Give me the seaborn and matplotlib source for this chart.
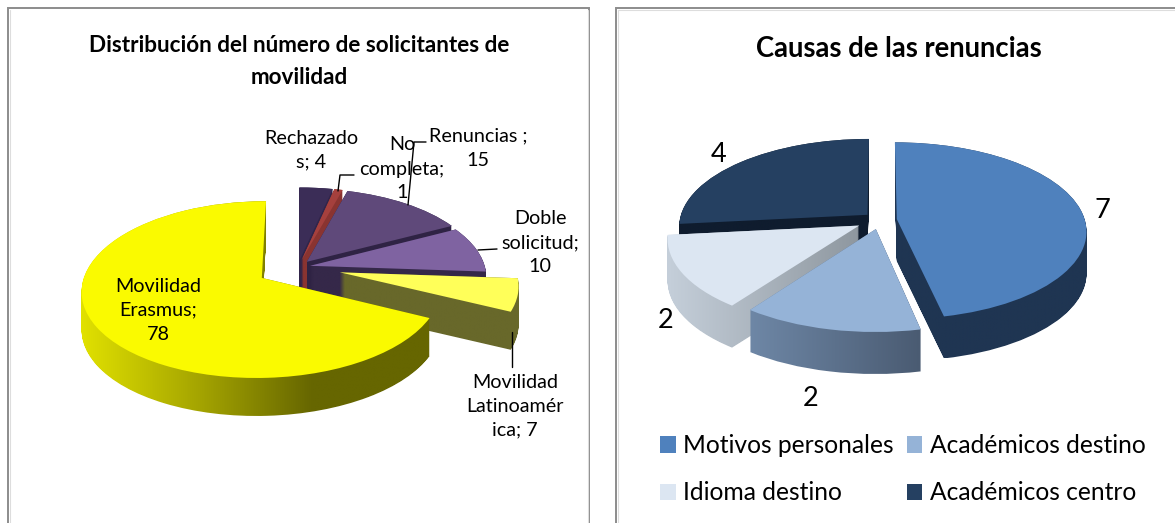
import numpy as np
import matplotlib
matplotlib.use('Agg')
import matplotlib.pyplot as plt
from matplotlib.path import Path
from matplotlib.transforms import Affine2D, Transform
import seaborn as sns

# two exploded 3D pies, the depth is just the wedges repeated downwards

# left chart
sol_names = ['Rechazados', 'No completa', 'Renuncias', 'Doble solicitud', 'Movilidad Latinoamérica', 'Movilidad Erasmus']
sol_values = [4, 1, 15, 10, 7, 78]
sol_labels = ['Rechazado\ns; 4', 'No\ncompleta;\n1', 'Renuncias ;\n15', 'Doble\nsolicitud;\n10',
              'Movilidad\nLatinoamér\nica; 7', 'Movilidad\nErasmus;\n78']
sol_explode = [0.08, 0.08, 0.08, 0.07, 0.245, 0.24]
sol_top = ['#3B2D57', '#A5403D', '#5F497A', '#7F63A1', '#FFFF59', '#FAFA00']
sol_side = [['#31254A'], ['#8A3431'], ['#2F2344'], ['#352849'], ['#68682A'],
            ['#E2E200', '#A6A600', '#666600', '#666600']]

# right chart
cau_names = ['Motivos personales', 'Académicos destino', 'Idioma destino', 'Académicos centro']
cau_values = [7, 2, 2, 4]
cau_explode = [0.09, 0.105, 0.127, 0.09]
cau_top = ['#4F81BD', '#95B3D7', '#DCE6F2', '#254061']
cau_side = [['#1F3552'], ['#6E87A6', '#4A5B72'], ['#C5CFDA', '#8E979F'], ['#0F1C2E']]


class Persp(Transform):
    input_dims = 2
    output_dims = 2
    is_affine = False

    def __init__(self, k):
        super().__init__()
        self.k = k

    def transform_non_affine(self, values):
        values = np.asarray(values, dtype=float)
        w = 1 + self.k * values[:, 1]
        return np.column_stack([values[:, 0] / w, values[:, 1] / w])

    def transform_path_non_affine(self, path):
        return Path(self.transform_non_affine(path.vertices), path.codes)


def draw_pie(ax, values, explode, top, side, order, cx, cy, rx, ry, k, depth):
    wedges, _ = ax.pie(values, explode=explode, colors=top, startangle=90, counterclock=False,
                       radius=1, wedgeprops={'linewidth': 0})
    z = 3
    for i in order:
        w = wedges[i]
        # side: gradient image clipped to the wedge swept downwards
        parts = []
        for d in range(depth + 1):
            t = Persp(k) + Affine2D().scale(rx, -ry).translate(cx, cy + d)
            parts.append(t.transform_path(w.get_path()))
        swept = Path.make_compound_path(*parts)
        x0, y0 = swept.vertices.min(axis=0)
        x1, y1 = swept.vertices.max(axis=0)
        stops = side[i] * 2 if len(side[i]) == 1 else side[i]
        cmap = sns.blend_palette(stops, as_cmap=True)
        im = ax.imshow(np.linspace(0, 1, 256)[None, :], cmap=cmap, extent=(x0, x1, y1, y0),
                       aspect='auto', interpolation='bilinear', zorder=z)
        im.set_clip_path(swept, ax.transData)
        w.set_transform(Persp(k) + Affine2D().scale(rx, -ry).translate(cx, cy) + ax.transData)
        w.set_zorder(z + 1)
        z += 2
    return wedges


sns.set_theme(style='white')
plt.rcParams['font.family'] = ['Lato', 'DejaVu Sans']

fig = plt.figure(figsize=(11.75, 5.23), dpi=100)
ax = fig.add_axes([0, 0, 1, 1])

sol_w = draw_pie(ax, sol_values, sol_explode, sol_top, sol_side, [0, 1, 2, 3, 4, 5],
                 298, 267, 175, 84, 0.13, 38)
cau_w = draw_pie(ax, cau_values, cau_explode, cau_top, cau_side, [3, 0, 2, 1],
                 880, 220, 188, 87, 0.13, 42)

ax.set_aspect('auto')
ax.set_xlim(0, 1175)
ax.set_ylim(523, 0)
ax.axis('off')

# chart frames
for xs, ys in [([8, 8, 589, 589], [523, 8, 8, 523]), ([616, 616, 1175], [523, 8, 8])]:
    ax.plot(xs, ys, color='#8C8C8C', lw=1.4, solid_joinstyle='miter', zorder=1)
ax.plot([9.5, 9.5], [523, 9.5], color='#DDDDDD', lw=0.8, zorder=1)
ax.plot([587.5, 587.5], [523, 9.5], color='#DDDDDD', lw=0.8, zorder=1)
ax.plot([617.5, 1175], [9.5, 9.5], color='#DDDDDD', lw=0.8, zorder=1)
ax.plot([617.5, 617.5], [523, 9.5], color='#DDDDDD', lw=0.8, zorder=1)

# titles
ax.text(299, 45, 'Distribución del número de solicitantes de', ha='center', va='center',
        fontsize=16.2, fontweight='bold', color='black', zorder=30)
ax.text(299, 77, 'movilidad', ha='center', va='center',
        fontsize=16.2, fontweight='bold', color='black', zorder=30)
ax.text(899, 49, 'Causas de las renuncias', ha='center', va='center',
        fontsize=19.8, fontweight='bold', color='black', zorder=30)

# left data labels
label_pos = [(311, 150), (402, 169), (478, 148), (540, 243), (515, 406), (158, 310)]
for txt, (x, y) in zip(sol_labels, label_pos):
    ax.text(x, y, txt, ha='center', va='center', fontsize=14.2, color='black',
            linespacing=1.5, zorder=30)

# leader lines
leaders = [([338, 340, 354], [191, 175, 175]), ([408, 414, 426], [205, 142, 142]),
           ([478, 497], [250, 249]), ([512, 512], [332, 367])]
for xs, ys in leaders:
    ax.plot(xs, ys, color='black', lw=1, zorder=31)

# right data labels
for v, (x, y) in zip(cau_values, [(1102, 210), (811, 398), (666, 320), (719, 155)]):
    ax.text(x, y, str(v), ha='center', va='center', fontsize=19.5, color='black', zorder=30)

# legend fills by column, the reference reads by row
leg_order = [0, 2, 1, 3]
ax.legend([cau_w[i] for i in leg_order], [cau_names[i] for i in leg_order], ncol=2, loc='upper left',
          bbox_to_anchor=(638, 412), bbox_transform=ax.transData, frameon=False, fontsize=17.7,
          handlelength=0.63, handleheight=0.63, handletextpad=0.3, columnspacing=0.53,
          labelspacing=0.98, borderpad=0.4, labelcolor='black')

fig.savefig('out.png', dpi=100)
